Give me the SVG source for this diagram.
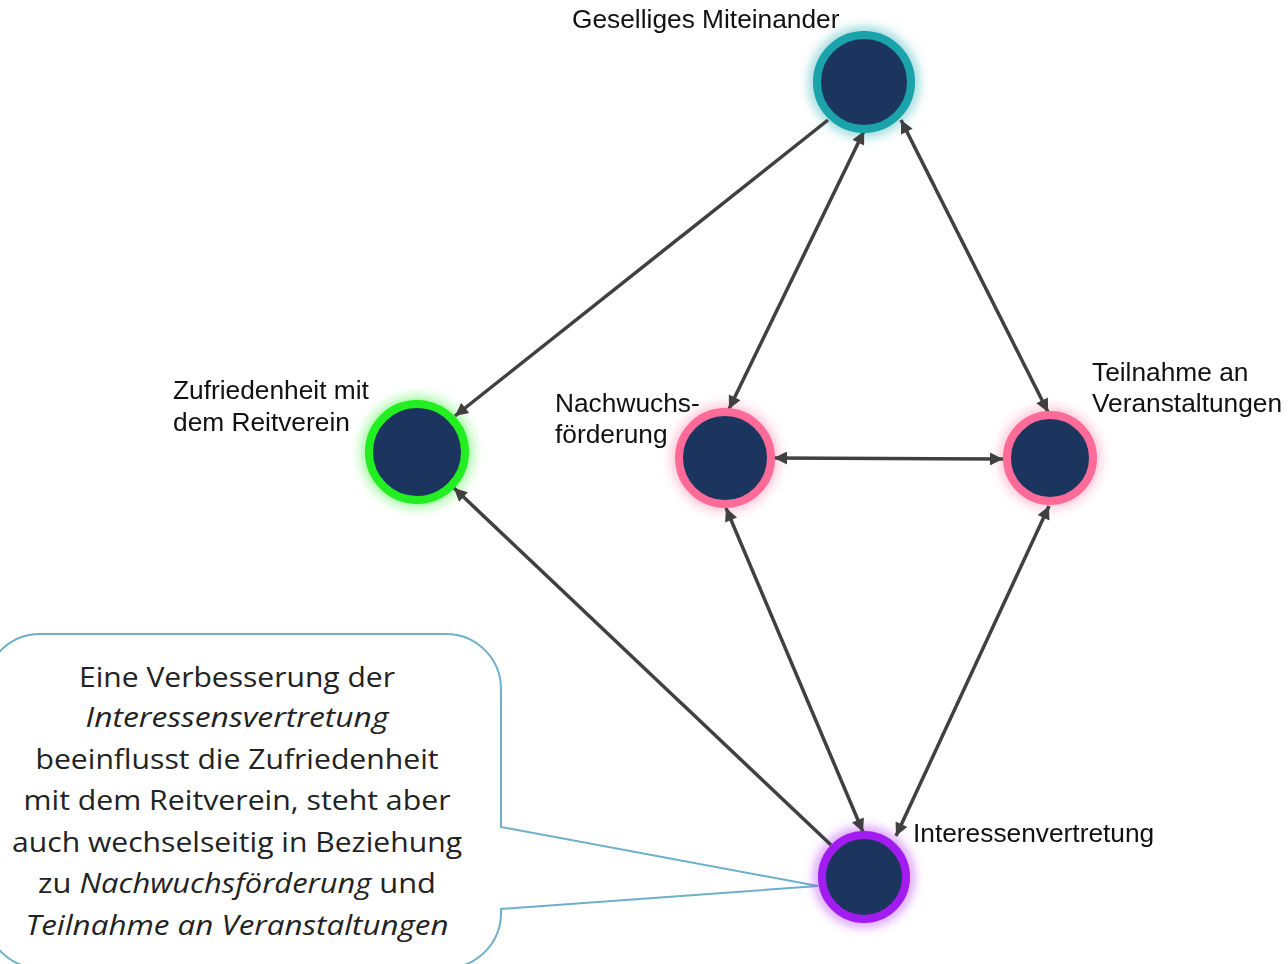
<svg xmlns="http://www.w3.org/2000/svg" width="1288" height="964" viewBox="0 0 1288 964">
<style>
  .lbl { font-family: "Liberation Sans", Arial, sans-serif; font-size: 26.3px; fill: #111; }
  .call { font-family: "Open Sans", Lato, sans-serif; font-size: 28px; fill: #222; text-anchor: middle; }
  .it { font-style: italic; }
  .edge { stroke: #404040; stroke-width: 3.5; fill: none; }
  .core { fill: #1C355E; stroke-width: 8; }
</style>
<defs>
  <filter id="glow" x="-50%" y="-50%" width="200%" height="200%">
    <feGaussianBlur stdDeviation="6"/>
  </filter>
  <marker id="ah" viewBox="0 0 10 10" refX="10" refY="5" markerWidth="15" markerHeight="13" markerUnits="userSpaceOnUse" orient="auto-start-reverse">
    <path d="M0,0 L10,5 L0,10 Z" fill="#404040"/>
  </marker>
</defs>
<rect width="1288" height="964" fill="#fff"/>

<g id="callout">
  <path d="M40,634 H446 A55,55 0 0 1 501,689 V827 L818,886 L501,909 V913 A55,55 0 0 1 446,968 H40 A55,55 0 0 1 -15,913 V689 A55,55 0 0 1 40,634 Z" fill="#fff" stroke="#6CB0C9" stroke-width="2"/>
  <text class="call" x="237" y="687" textLength="316" lengthAdjust="spacingAndGlyphs">Eine Verbesserung der</text>
  <text class="call it" x="237" y="727" textLength="303" lengthAdjust="spacingAndGlyphs">Interessensvertretung</text>
  <text class="call" x="237" y="769" textLength="403" lengthAdjust="spacingAndGlyphs">beeinflusst die Zufriedenheit</text>
  <text class="call" x="237" y="810" textLength="427" lengthAdjust="spacingAndGlyphs">mit dem Reitverein, steht aber</text>
  <text class="call" x="237" y="852" textLength="450" lengthAdjust="spacingAndGlyphs">auch wechselseitig in Beziehung</text>
  <text class="call" x="237" y="893" textLength="398" lengthAdjust="spacingAndGlyphs">zu <tspan class="it">Nachwuchsförderung</tspan> und</text>
  <text class="call it" x="237" y="935" textLength="423" lengthAdjust="spacingAndGlyphs">Teilnahme an Veranstaltungen</text>
</g>

<g id="glows" filter="url(#glow)">
  <circle cx="864" cy="82" r="54" fill="#1AA3AA" opacity="0.5"/>
  <circle cx="417" cy="452" r="55" fill="#22EE22" opacity="0.5"/>
  <circle cx="725" cy="458" r="53" fill="#FF6B98" opacity="0.45"/>
  <circle cx="1050" cy="458" r="50" fill="#FF6B98" opacity="0.45"/>
  <circle cx="864" cy="877" r="49" fill="#A21CF0" opacity="0.5"/>
</g>

<g id="connectors">
  <line class="edge" x1="828" y1="120" x2="455" y2="416" marker-end="url(#ah)"/>
  <line class="edge" x1="864" y1="131" x2="729" y2="409" marker-start="url(#ah)" marker-end="url(#ah)"/>
  <line class="edge" x1="901" y1="120" x2="1048" y2="412" marker-start="url(#ah)" marker-end="url(#ah)"/>
  <line class="edge" x1="774" y1="458" x2="1003" y2="459" marker-start="url(#ah)" marker-end="url(#ah)"/>
  <line class="edge" x1="726" y1="508" x2="863" y2="832" marker-start="url(#ah)" marker-end="url(#ah)"/>
  <line class="edge" x1="1049" y1="506" x2="896" y2="836" marker-start="url(#ah)" marker-end="url(#ah)"/>
  <line class="edge" x1="831" y1="845" x2="454" y2="488" marker-end="url(#ah)"/>
</g>

<g id="node-gesellig">
  <circle class="core" cx="864" cy="82" r="47" stroke="#1AA3AA"/>
  <text class="lbl" x="572" y="28">Geselliges Miteinander</text>
</g>
<g id="node-zufriedenheit">
  <circle class="core" cx="417" cy="452" r="48" stroke="#22EE22"/>
  <text class="lbl" x="173" y="399">Zufriedenheit mit</text>
  <text class="lbl" x="173" y="431">dem Reitverein</text>
</g>
<g id="node-nachwuchs">
  <circle class="core" cx="725" cy="458" r="46" stroke="#FF6B98"/>
  <text class="lbl" x="555" y="412">Nachwuchs-</text>
  <text class="lbl" x="555" y="443">förderung</text>
</g>
<g id="node-teilnahme">
  <circle class="core" cx="1050" cy="458" r="43" stroke="#FF6B98"/>
  <text class="lbl" x="1092" y="381">Teilnahme an</text>
  <text class="lbl" x="1092" y="412">Veranstaltungen</text>
</g>
<g id="node-interessen">
  <circle class="core" cx="864" cy="877" r="42" stroke="#A21CF0"/>
  <text class="lbl" x="913" y="842">Interessenvertretung</text>
</g>
</svg>
